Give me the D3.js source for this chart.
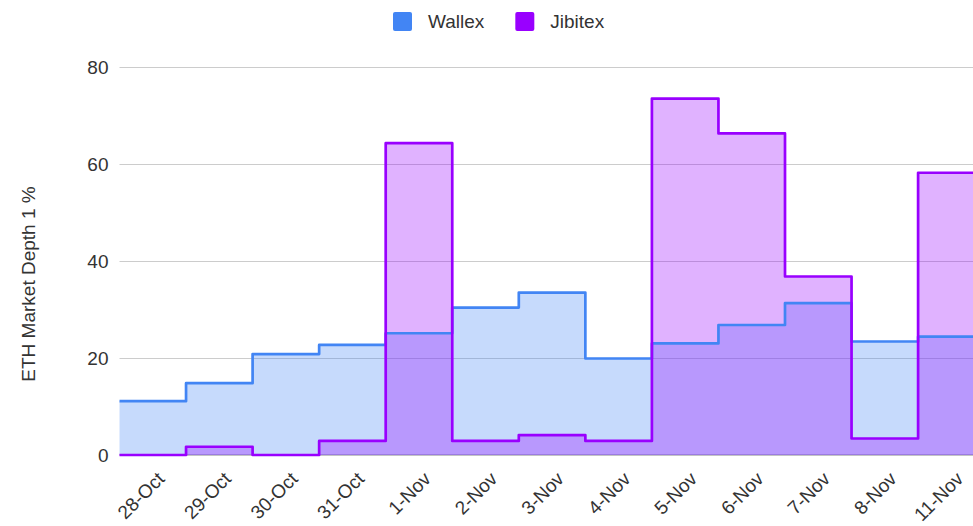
<!DOCTYPE html>
<html>
<head>
<meta charset="utf-8">
<script src="https://cdn.jsdelivr.net/npm/d3@7"></script>
<style>
	body { margin: 0; background: #fff; overflow: hidden; }
	svg { display: block; font-family: "Liberation Sans", Arial, sans-serif; }
</style>
</head>
<body>
<div id="chart"></div>
<script>

// data
var categories = ["28-Oct", "29-Oct", "30-Oct", "31-Oct", "1-Nov", "2-Nov", "3-Nov",
	"4-Nov", "5-Nov", "6-Nov", "7-Nov", "8-Nov", "11-Nov"];
var wallex = [11.1, 14.8, 20.8, 22.7, 25.1, 30.4, 33.5, 19.9, 23.0, 26.8, 31.3, 23.4, 24.4];
var jibitex = [0, 1.7, 0, 2.9, 64.3, 2.9, 4.1, 2.9, 73.5, 66.3, 36.8, 3.4, 58.2];
var yTicks = [0, 20, 40, 60, 80];
var seriesNames = ["Wallex", "Jibitex"];

var width = 973,
	height = 526,
	plotLeft = 119.5,
	bandW = 66.55,
	fontSize = 19,
	textColor = "#333";

var svg = d3.select("#chart").append("svg")
	.attr("width", width)
	.attr("height", height);

var x = d3.scaleBand()
	.domain(categories)
	.range([plotLeft, plotLeft + bandW * categories.length])
	.padding(0);

var y = d3.scaleLinear()
	.domain([0, 80])
	.range([455, 67]);

var series = [
	{ name: seriesNames[0], values: wallex, line: "#4285f4" },
	{ name: seriesNames[1], values: jibitex, line: "#9900ff" }
];

// points for a stepped shape: start of each band, plus end of last band
function stepPoints(values) {
	var pts = categories.map(function(c, i) { return [x(c), values[i]]; });
	var last = categories[categories.length - 1];
	pts.push([x(last) + x.bandwidth(), values[values.length - 1]]);
	return pts;
}

// gridlines
svg.append("g")
	.attr("class", "grid")
	.attr("transform", "translate(" + plotLeft + ",0)")
	.call(d3.axisLeft(y).tickValues(yTicks.filter(function(t) { return t > 0; }))
		.tickSize(-(width - plotLeft)).tickFormat(""))
	.call(function(g) { g.select(".domain").remove(); })
	.call(function(g) { g.selectAll(".tick line").attr("stroke", "#cccccc"); });

// baseline
svg.append("line")
	.attr("x1", plotLeft).attr("x2", width)
	.attr("y1", y(0)).attr("y2", y(0))
	.attr("stroke", "#8a8a8a")
	.attr("stroke-width", 1.2);

var area = d3.area()
	.x(function(d) { return d[0]; })
	.y0(y(0))
	.y1(function(d) { return y(d[1]); })
	.curve(d3.curveStepAfter);

var line = d3.line()
	.x(function(d) { return d[0]; })
	.y(function(d) { return y(d[1]); })
	.curve(d3.curveStepAfter);

// fills first, then lines on top
svg.append("g").selectAll("path")
	.data(series)
	.enter().append("path")
	.attr("d", function(d) { return area(stepPoints(d.values)); })
	.attr("fill", function(d) { return d.line; })
	.attr("fill-opacity", 0.3);

svg.append("g").selectAll("path")
	.data(series)
	.enter().append("path")
	.attr("d", function(d) { return line(stepPoints(d.values)); })
	.attr("fill", "none")
	.attr("stroke", function(d) { return d.line; })
	.attr("stroke-width", 2.7)
	.attr("stroke-linejoin", "round");

// y tick labels
svg.append("g")
	.attr("transform", "translate(" + plotLeft + ",0)")
	.call(d3.axisLeft(y).tickValues(yTicks).tickSize(0).tickPadding(11))
	.call(function(g) { g.select(".domain").remove(); })
	.call(function(g) {
		g.selectAll("text")
			.attr("font-size", fontSize)
			.attr("font-family", "Liberation Sans, Arial, sans-serif")
			.attr("fill", textColor);
	});

// x labels, rotated
svg.append("g")
	.attr("transform", "translate(0," + y(0) + ")")
	.call(d3.axisBottom(x).tickSize(0).tickFormat(function(d) { return d; }))
	.call(function(g) { g.select(".domain").remove(); })
	.call(function(g) {
		g.selectAll(".tick text")
			.attr("font-size", fontSize)
			.attr("font-family", "Liberation Sans, Arial, sans-serif")
			.attr("fill", textColor)
			.attr("text-anchor", "end")
			.attr("y", 0)
			.attr("dy", 0)
			.attr("transform", "translate(13,25) rotate(-45)");
	});

// y axis title
svg.append("text")
	.attr("transform", "translate(35,284) rotate(-90)")
	.attr("text-anchor", "middle")
	.attr("font-size", fontSize)
	.attr("fill", textColor)
	.text("ETH Market Depth 1 %");

// legend
var legend = svg.append("g").attr("transform", "translate(393,12)");
var lx = 0;
series.forEach(function(s) {
	var item = legend.append("g").attr("transform", "translate(" + lx + ",0)");
	item.append("rect")
		.attr("width", 19).attr("height", 19)
		.attr("rx", 2)
		.attr("fill", s.line);
	var t = item.append("text")
		.attr("x", 35)
		.attr("y", 16)
		.attr("font-size", fontSize)
		.attr("fill", textColor)
		.text(s.name);
	lx += 35 + t.node().getComputedTextLength() + 31;
});

</script>
</body>
</html>
